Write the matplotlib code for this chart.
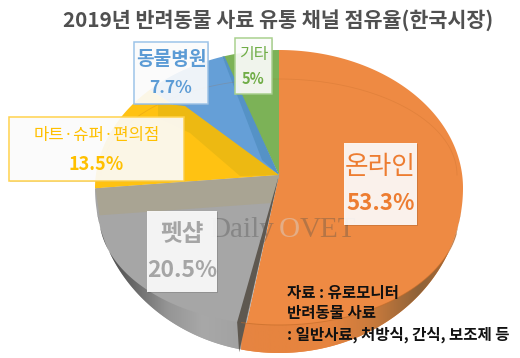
import numpy as np
import matplotlib
matplotlib.use("Agg")
import matplotlib.pyplot as plt
from matplotlib.patches import Polygon, Rectangle
from matplotlib.colors import LinearSegmentedColormap

plt.rcParams['font.family'] = ['Noto Sans CJK KR', 'DejaVu Sans']

title = "2019년 반려동물 사료 유통 채널 점유율(한국시장)"
categories = ["온라인", "펫샵", "마트·슈퍼·편의점", "동물병원", "기타"]
values = [53.3, 20.5, 13.5, 7.7, 5.0]
value_labels = ["53.3%", "20.5%", "13.5%", "7.7%", "5%"]
top_colors = ["#EE8A43", "#A6A6A6", "#FFC212", "#659FD7", "#7CB257"]
text_colors = ["#ED7D31", "#A5A5A5", "#FFC000", "#5B9BD5", "#70AD47"]
edge_colors = [None, None, "#FFD24D", "#9CC3E8", "#A9D18E"]
boxes = [(344, 143, 73, 82), (147, 211, 70, 81), (9, 117, 175, 64), (134, 42, 74, 62), (235, 38, 37, 56)]
name_size = [18.5, 17, 12, 13.8, 11.5]
pct_size = [16, 16.5, 13, 12.5, 10.5]
notes = ["자료 : 유로모니터", "반려동물 사료", ": 일반사료, 처방식, 간식, 보조제 등"]

CX, CY = 279.0, 175.0

def rim(t):
    t = np.asarray(t)
    c = np.cos(t)
    return 279 + 184 * np.sin(t), 188 - c * np.where(c > 0, 138, 165)

def ray(t, k=1.0):
    c = np.cos(t)
    return CX + k * 184 * np.sin(t), CY - k * c * (125 if c > 0 else 177)

fig = plt.figure(figsize=(5.2, 3.58), dpi=100)
ax = fig.add_axes([0, 0, 1, 1])
ax.set_xlim(0, 520)
ax.set_ylim(358, 0)
ax.axis("off")

tt = np.linspace(0, 2 * np.pi, 400)
ox, oy = rim(tt)
outline = Polygon(np.c_[ox, oy], closed=True, transform=ax.transData, fc="none", ec="none")
ax.add_patch(outline)

edges = np.radians(np.r_[0, np.cumsum(values)] * 3.6)
for v0, v1, col in zip(edges[:-1], edges[1:], top_colors):
    ts = np.linspace(v0, v1, 60)
    pts = [(CX, CY)] + [ray(t, 1.5) for t in ts]
    ax.add_patch(Polygon(pts, closed=True, fc=col, ec="none")).set_clip_path(outline)

# shading facets attached to the slice boundaries
t_or, t_gr, t_ye, t_bl = edges[1], edges[2], edges[3], edges[4]
pg = ray(t_gr)
p_or = ray(t_or)
tan = [(CX, CY), pg, (pg[0] + 4, pg[1] + 27), (CX - 7, CY + 28)]
ax.add_patch(Polygon(tan, closed=True, fc="#A9A493", ec="none")).set_clip_path(outline)
wall = [(CX, CY), (p_or[0] - 2, p_or[1] + 4), (p_or[0] - 4, p_or[1] - 26), (CX - 8, CY + 28)]
ax.add_patch(Polygon(wall, closed=True, fc="#5E5850", ec="none", zorder=3))
dark_y = [(CX, CY), (240, 176), (190, 133), (158, 118), (158, 103), (185, 106)]
ax.add_patch(Polygon(dark_y, closed=True, fc="#EDB912", ec="none")).set_clip_path(outline)
pb = ray(t_bl)
dark_b = [(CX, CY), (262, 160), (226, 66), pb, (pb[0], pb[1] - 5)]
ax.add_patch(Polygon(dark_b, closed=True, fc="#5592C6", ec="none")).set_clip_path(outline)

# side walls
def side(t0, t1, stops, x0, x1):
    ts = np.linspace(t0, t1, 120)
    outx, outy = rim(ts)
    sx = 279 + 180 * np.sin(ts)
    sy = 215 - 110 * np.cos(ts)
    poly = np.r_[np.c_[outx, outy], np.c_[sx, sy][::-1]]
    patch = Polygon(poly, closed=True, fc="none", ec="none")
    ax.add_patch(patch)
    cmap = LinearSegmentedColormap.from_list("s", stops)
    im = ax.imshow(np.linspace(0, 1, 256)[None, :], extent=(x0, x1, 358, 0), cmap=cmap, aspect="auto", zorder=2)
    im.set_clip_path(patch)

side(np.radians(191.9), np.radians(262), ["#3F3F3F", "#666666", "#959595", "#A8A8A8", "#A2A2A2"], 96, 239)
side(np.radians(98), np.radians(191.9), ["#E68442", "#E6843F", "#E6843F", "#C87A3C", "#8F6238", "#B06C35"], 239, 464)
ax.set_xlim(0, 520)
ax.set_ylim(358, 0)

# faint ring lines
a = np.linspace(-np.pi / 2, np.pi / 2, 100)
ax.plot(279 + 178 * np.sin(a), 175 - 96 * np.cos(a), color="#B06020", alpha=0.2, lw=0.6, zorder=3)
a2 = np.linspace(np.radians(100), np.radians(192), 100)
ax.plot(279 + 180 * np.sin(a2), 215 - 110 * np.cos(a2), color="#C06A28", alpha=0.6, lw=0.7, zorder=3)

# watermark
wm = dict(family=["Liberation Serif", "DejaVu Serif"], fontsize=21, va="center", zorder=4)
ax.text(209, 230, "Daily", color="#5A5A5A", alpha=0.42, ha="left", **wm)
ax.text(289, 230, "O", color="#D8D8D8", alpha=0.45, ha="center", **wm)
ax.text(300, 230, "VET", color="#6A5A4A", alpha=0.42, ha="left", **wm)

# labels
weights = ["medium", "bold", "medium", "bold", "medium"]
for name, pct, col, ec, (x, y, w, h), s1, s2, wt in zip(categories, value_labels, text_colors, edge_colors, boxes, name_size, pct_size, weights):
    ax.add_patch(Rectangle((x + 1, y + 1), w, h, fc="#000000", alpha=0.12, ec="none", zorder=5))
    ax.add_patch(Rectangle((x, y), w, h, fc="white", alpha=0.9, ec="none", zorder=5))
    if ec:
        ax.add_patch(Rectangle((x, y), w, h, fc="none", ec=ec, lw=1.1, zorder=5))
    ax.text(x + w / 2, y + h * 0.29, name, color=col, fontsize=s1, fontweight=wt, ha="center", va="center", zorder=6)
    ax.text(x + w / 2, y + h * 0.74, pct, color=col, fontsize=s2, fontweight="bold", ha="center", va="center", zorder=6)

ax.text(278, 20, title, color="#505050", fontsize=14.9, fontweight="bold", ha="center", va="center", zorder=6)
for line, y in zip(notes, [293, 313, 335]):
    ax.text(287, y, line, color="#111111", fontsize=11.2, fontweight="bold", ha="left", va="center", zorder=6)

fig.savefig("out.png", dpi=100, facecolor="white")
